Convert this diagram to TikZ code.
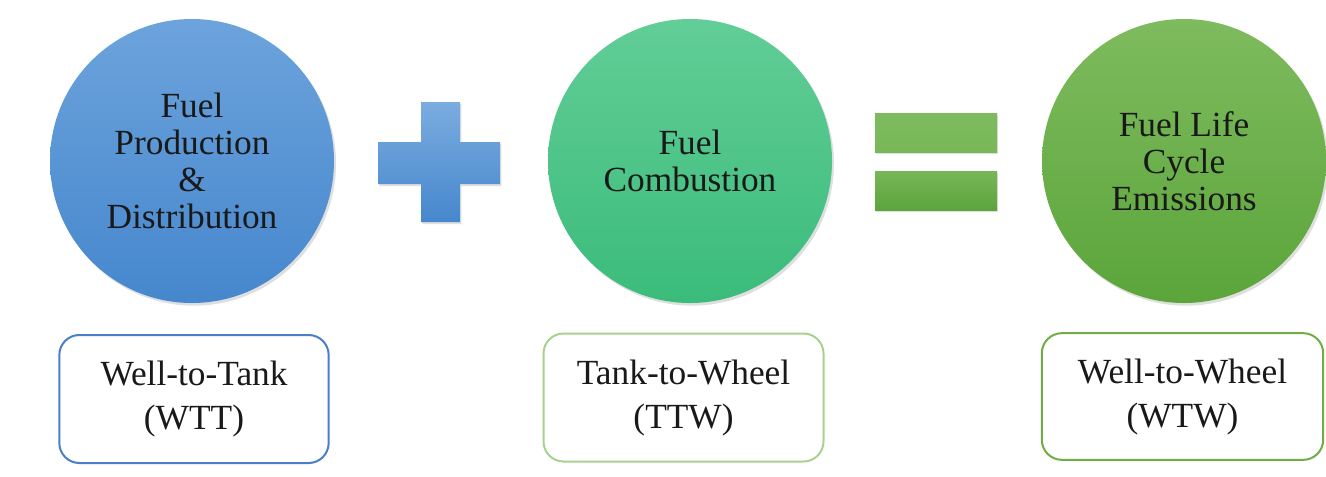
\documentclass[tikz,border=0pt]{standalone}
\usepackage{fontspec}
\setmainfont{Liberation Serif}
\usetikzlibrary{shadows}
\definecolor{bluetop}{HTML}{6CA3DC}
\definecolor{bluebot}{HTML}{4687CD}
\definecolor{teal1}{HTML}{62CD97}
\definecolor{teal2}{HTML}{3BBC7B}
\definecolor{grn1}{HTML}{7EBB5E}
\definecolor{grn2}{HTML}{5BA53B}
\definecolor{bordblue}{HTML}{4A7EC6}
\definecolor{bordlight}{HTML}{A9D18E}
\definecolor{bordgreen}{HTML}{70AD47}
\tikzset{
  disc/.style={circle, minimum size=213pt, inner sep=0pt, align=center,
    font=\fontsize{26.5}{27.8}\selectfont, text=black!90,
    drop shadow={opacity=0.25, shadow xshift=1.5pt, shadow yshift=-2pt}},
  labelbox/.style={draw, line width=1.5pt, rounded corners=15pt, fill=white,
    minimum height=96pt, align=center,
    font=\fontsize{26.5}{33}\selectfont, text=black!90},
  opbar/.style={drop shadow={opacity=0.25, shadow xshift=1pt, shadow yshift=-1.5pt}}
}
\begin{document}
\begin{tikzpicture}[x=0.75pt, y=-0.75pt]
\useasboundingbox (0,0) rectangle (1326,476);
% circles
\node[disc, top color=bluetop, bottom color=bluebot] (c1) at (192,161)
  {Fuel\\Production\\\&\\Distribution};
\node[disc, top color=teal1, bottom color=teal2] (c2) at (690,161)
  {Fuel\\Combustion};
\node[disc, top color=grn1, bottom color=grn2] (c3) at (1184,161)
  {Fuel Life\\Cycle\\Emissions};
% plus sign
\path[opbar, top color=bluetop!90!white, bottom color=bluebot]
  (421,102) -- (460,102) -- (460,142) -- (500,142) -- (500,184) -- (460,184)
  -- (460,222) -- (421,222) -- (421,184) -- (378,184) -- (378,142) -- (421,142) -- cycle;
% equals sign
\path[opbar, top color=grn1, bottom color=grn1!85!grn2] (875,113) rectangle (997,152);
\path[opbar, top color=grn1!80!grn2, bottom color=grn2] (875,171) rectangle (997,210);
% label boxes
\node[labelbox, draw=bordblue, minimum width=202pt] (b1) at (194,399) {Well-to-Tank\\(WTT)};
\node[labelbox, draw=bordlight, minimum width=210pt] (b2) at (683.5,397.5) {Tank-to-Wheel\\(TTW)};
\node[labelbox, draw=bordgreen, minimum width=211pt, minimum height=95pt] (b3) at (1182.5,396.5) {Well-to-Wheel\\(WTW)};
\end{tikzpicture}
\end{document}
